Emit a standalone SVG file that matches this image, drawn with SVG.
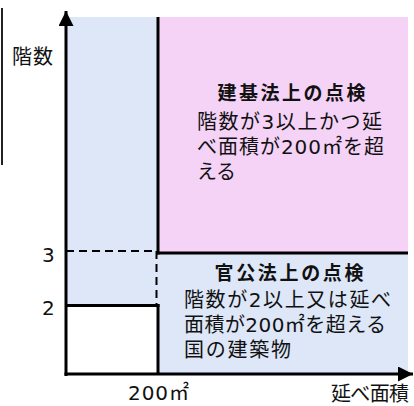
<svg xmlns="http://www.w3.org/2000/svg" width="414" height="406" viewBox="0 0 414 406">
<style>
.t{font-family:"DejaVu Sans","Noto Sans CJK JP",sans-serif;fill:#111}
.j{font-family:"DejaVu Sans","Noto Sans CJK JP",sans-serif;fill:#111;font-size:20px}
.b{font-weight:bold;font-size:19px}
.ln{stroke:#000;stroke-width:3;fill:none}
.ds{stroke:#000;stroke-width:2;stroke-dasharray:8 5;fill:none}
</style>
<defs>
<marker id="ah" viewBox="0 0 10 10" refX="10" refY="5" markerWidth="5" markerHeight="5" orient="auto" markerUnits="strokeWidth">
<path d="M0,0 L10,5 L0,10 z" fill="#000"/>
</marker>
</defs>
<rect width="414" height="406" fill="#fff"/>
<line x1="2" y1="8" x2="2" y2="165" stroke="#222" stroke-width="2"/>
<g id="region-low-left">
<rect x="66" y="17" width="92" height="288" fill="#dde7f8"/>
<rect x="66" y="305" width="92" height="70" fill="#fff"/>
</g>
<g id="node-kenkiho">
<rect x="158" y="17" width="250" height="236" fill="#f5d3f7"/>
<text class="j b" x="291.5" y="100" text-anchor="middle" textLength="148" lengthAdjust="spacing">建基法上の点検</text>
<text class="j" x="197" y="129" textLength="185" lengthAdjust="spacing">階数が3以上かつ延</text>
<text class="j" x="197" y="154" textLength="187" lengthAdjust="spacing">べ面積が200㎡を超</text>
<text class="j" x="197" y="179" textLength="39" lengthAdjust="spacing">える</text>
</g>
<g id="node-kankoho">
<rect x="158" y="253" width="250" height="122" fill="#dde7f8"/>
<text class="j b" x="289" y="280" text-anchor="middle" textLength="149" lengthAdjust="spacing">官公法上の点検</text>
<text class="j" x="184" y="307" textLength="207" lengthAdjust="spacing">階数が2以上又は延べ</text>
<text class="j" x="184" y="332" textLength="202" lengthAdjust="spacing">面積が200㎡を超える</text>
<text class="j" x="184" y="357" textLength="107" lengthAdjust="spacing">国の建築物</text>
</g>
<g id="connectors">
<line class="ln" x1="158" y1="17" x2="158" y2="254.5"/>
<line class="ln" x1="156.5" y1="253" x2="408" y2="253"/>
<line class="ds" x1="66" y1="251" x2="156" y2="251"/>
<line class="ds" x1="156.5" y1="251" x2="156.5" y2="305"/>
<line class="ln" x1="66" y1="305.5" x2="159.5" y2="305.5"/>
<line class="ln" x1="158" y1="304" x2="158" y2="375"/>
<line class="ln" x1="66" y1="376" x2="66" y2="11" marker-end="url(#ah)"/>
<line class="ln" x1="64.5" y1="374" x2="413" y2="374" marker-end="url(#ah)"/>
</g>
<g id="labels">
<text class="j" x="12" y="64" textLength="41" lengthAdjust="spacing">階数</text>
<text class="t" x="42" y="262" font-size="20">3</text>
<text class="t" x="42" y="315" font-size="20">2</text>
<text class="t" x="128" y="400" font-size="20" textLength="61" lengthAdjust="spacing">200㎡</text>
<text class="j" x="331" y="401" font-size="18" textLength="78" lengthAdjust="spacing">延べ面積</text>
</g>
</svg>
